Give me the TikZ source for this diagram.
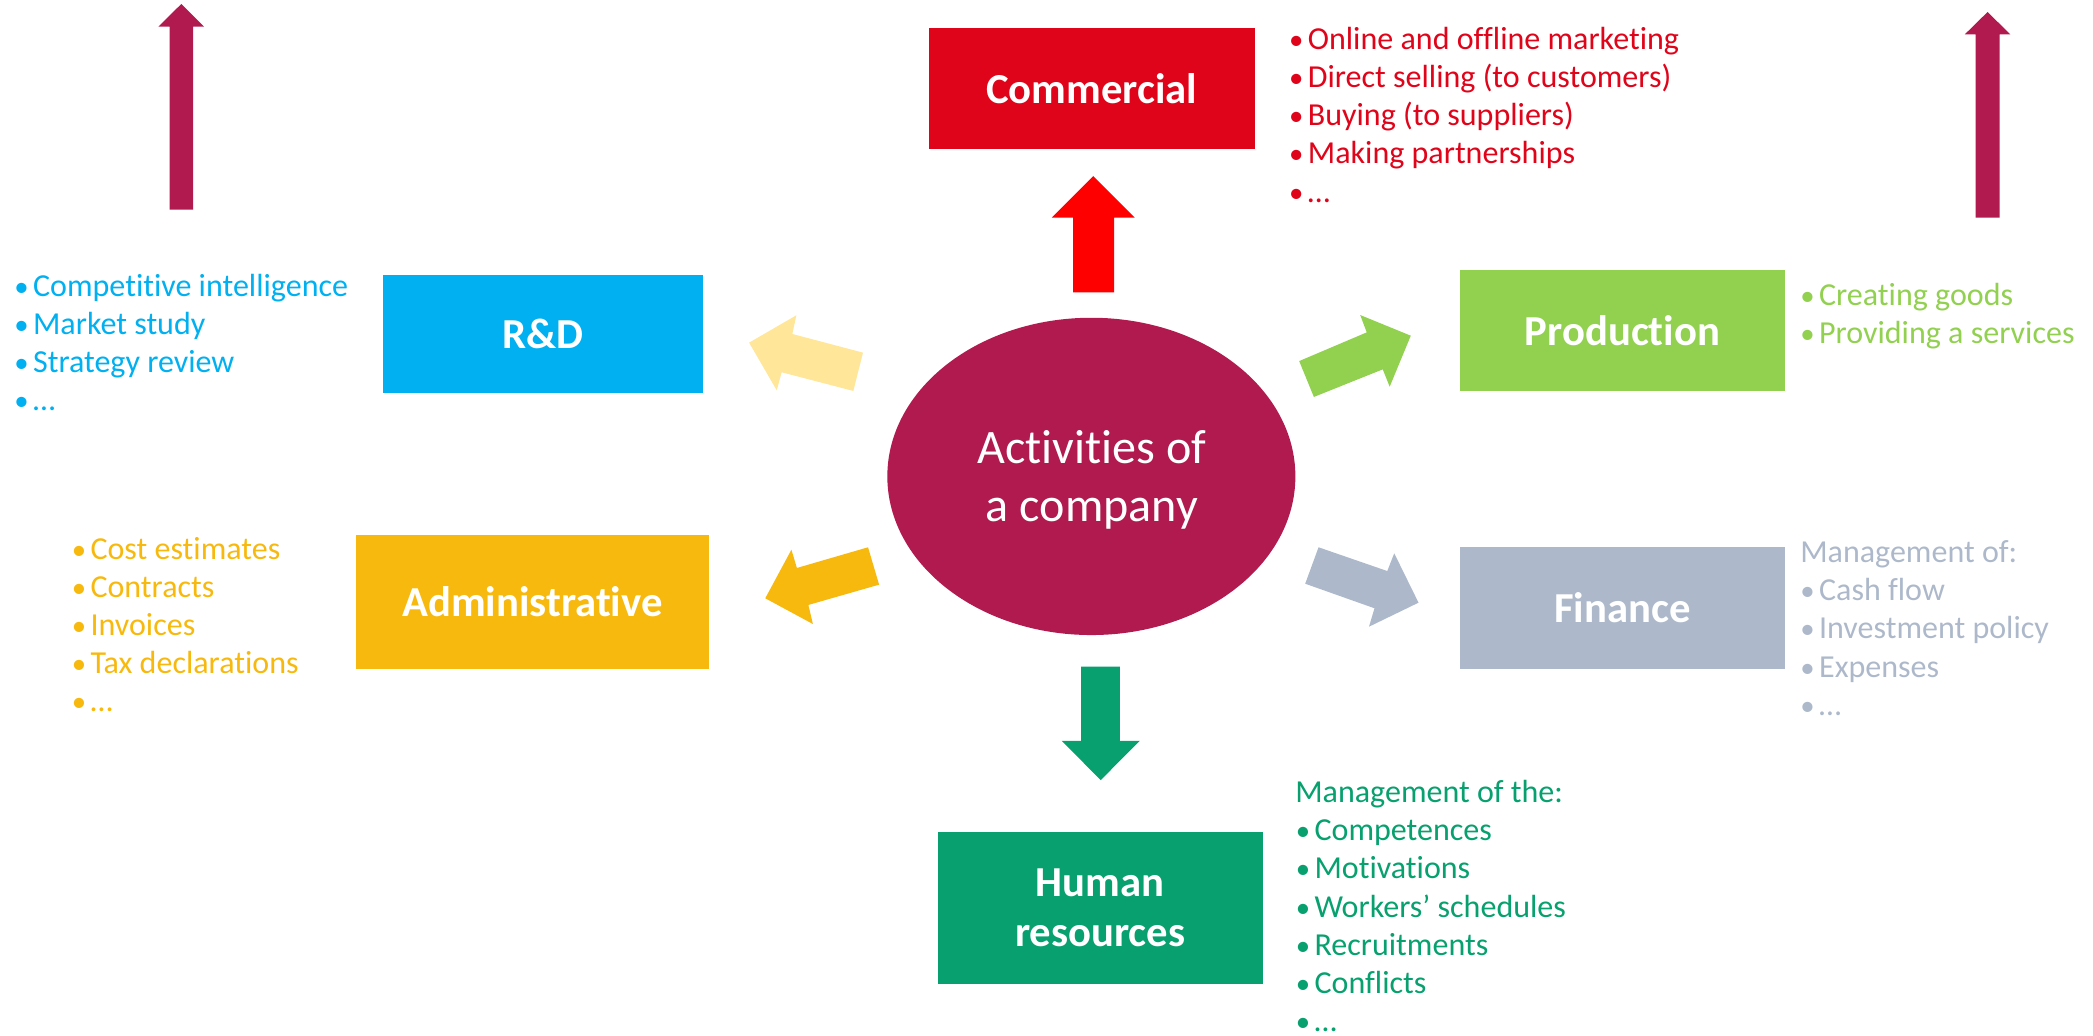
\documentclass[tikz,border=0pt]{standalone}
\usepackage{fontspec}
\setmainfont{Carlito}[Ligatures={NoCommon}]
\usetikzlibrary{shapes.geometric}

\definecolor{corecol}{HTML}{B01A4F}
\definecolor{comred}{HTML}{E0041A}
\definecolor{arrred}{HTML}{FF0000}
\definecolor{rdblue}{HTML}{00B0F0}
\definecolor{rdpale}{HTML}{FFE699}
\definecolor{prodgreen}{HTML}{92D050}
\definecolor{fingrey}{HTML}{ADB9CA}
\definecolor{admgold}{HTML}{F8B90E}
\definecolor{hrgreen}{HTML}{07A06E}

\newcommand\bul{\makebox[14.6pt][l]{\hspace{0.6pt}\scalebox{0.9}{•}}}

\begin{document}
\begin{tikzpicture}[x=1pt,y=-1pt,
  box/.style={rectangle, inner sep=0pt, text=white, align=center,
    font=\fontsize{32}{37.8}\selectfont\bfseries},
  item/.style={anchor=base west, inner sep=0pt, font=\fontsize{24}{28.6}\selectfont},
  coretext/.style={anchor=base, inner sep=0pt, text=white, font=\fontsize{36}{43.2}\selectfont}]
\useasboundingbox (0,0) rectangle (1568,775.4);

% central ellipse
\node[ellipse, fill=corecol, inner sep=0pt, minimum width=305.7pt, minimum height=237.7pt] (core) at (817.6,356.9) {};
\node[coretext] (core1) at (818,347.6) {Activities of};
\node[coretext] (core2) at (818,390.8) {a company};

% department boxes
\node[box, fill=comred, minimum width=244pt, minimum height=91pt] (commercial) at (818,66.5) {Commercial};
\node[box, fill=rdblue, minimum width=240pt, minimum height=88.5pt] (rd) at (407,250.2) {R\&D};
\node[box, fill=prodgreen, minimum width=243pt, minimum height=91pt] (production) at (1215.5,247.5) {Production};
\node[box, fill=fingrey, minimum width=243pt, minimum height=91.2pt] (finance) at (1215.5,455.4) {Finance};
\node[box, fill=admgold, minimum width=264.3pt, minimum height=100.2pt] (admin) at (398.9,450.9) {Administrative};
\node[box, fill=hrgreen, minimum width=243.4pt, minimum height=113.7pt] (hr) at (824.3,680.2) {Human\\resources};

% block arrows around the core
\fill[arrred] (804,219) -- (804,163) -- (788,163) -- (819,132) -- (850,163) -- (834.6,163) -- (834.6,219) -- cycle;
\fill[hrgreen] (810,499.5) -- (810,555) -- (795.4,555) -- (824.6,584.4) -- (853.9,555) -- (839,555) -- (839,499.5) -- cycle;
\fill[rdpale] (646.5,264.2) -- (639.3,292.9) -- (585.6,278.9) -- (581.9,292.4) -- (561.2,256.7) -- (596.6,236.2) -- (593.6,250.2) -- cycle;
\fill[prodgreen] (973.3,270.5) -- (984.3,297.4) -- (1035.9,276.7) -- (1041.1,289.7) -- (1056.9,251.5) -- (1019,236) -- (1023.9,249) -- cycle;
\fill[admgold] (650.3,410) -- (658.6,438) -- (605.6,453.2) -- (609,467.5) -- (573.3,448.2) -- (592.9,411.8) -- (597,425.5) -- cycle;
\fill[fingrey] (987.8,410) -- (977.8,437.3) -- (1029.7,455.7) -- (1025.6,469.5) -- (1062.7,451.5) -- (1044.5,414.5) -- (1039.3,427.8) -- cycle;

% tall upward arrows in the corners
\fill[corecol] (127,157) -- (127,20) -- (118.7,20) -- (135.8,3) -- (152.8,20) -- (144.6,20) -- (144.6,157) -- cycle;
\fill[corecol] (1480,163) -- (1480,25.7) -- (1472,25.7) -- (1489,9) -- (1506,25.7) -- (1498,25.7) -- (1498,163) -- cycle;

% activity lists
\foreach \t [count=\i from 0] in {Online and offline marketing, Direct selling (to customers), Buying (to suppliers), Making partnerships, …}
  \node[item, text=comred] (com-\i) at (965, 37+28.6*\i) {\bul\t};

\foreach \t [count=\i from 0] in {Competitive intelligence, Market study, Strategy review, …}
  \node[item, text=rdblue] (rdl-\i) at (10, 222.3+28.5*\i) {\bul\t};

\node[item, text=prodgreen] (prod-0) at (1348,228.5) {\bul Creating goods};
\node[item, text=prodgreen] (prod-1) at (1348,257.7) {\bul Providing a services};

\node[item, text=fingrey] (fin-h) at (1348.5,421.3) {Management of:};
\foreach \t [count=\i from 1] in {Cash flow, Investment policy, Expenses, …}
  \node[item, text=fingrey] (fin-\i) at (1348, 421.3+28.65*\i) {\bul\t};

\foreach \t [count=\i from 0] in {Cost estimates, Contracts, Invoices, Tax declarations, …}
  \node[item, text=admgold] (adm-\i) at (53, 419.5+28.43*\i) {\bul\t};

\node[item, text=hrgreen] (hr-h) at (970.2,601.3) {Management of the:};
\foreach \t [count=\i from 1] in {Competences, Motivations, Workers’ schedules, Recruitments, Conflicts, …}
  \node[item, text=hrgreen] (hr-\i) at (970, 601.3+28.6*\i) {\bul\t};
\end{tikzpicture}
\end{document}
